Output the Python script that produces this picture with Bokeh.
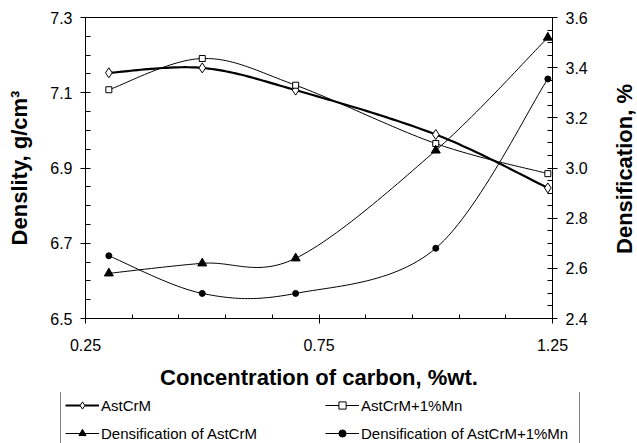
import numpy as np
from bokeh.plotting import figure
from bokeh.layouts import column, row
from bokeh.models import (Range1d, LinearAxis, FixedTicker, Legend, LegendItem, Title)
from bokeh.embed import file_html
from bokeh.resources import INLINE

# ---- data ----
carbon = [0.3, 0.5, 0.7, 1.0, 1.24]
astcrm = [7.153, 7.166, 7.107, 6.989, 6.847]
astcrm_mn = [7.108, 7.191, 7.120, 6.965, 6.885]
dens_astcrm = [2.58, 2.62, 2.64, 3.07, 3.52]
dens_astcrm_mn = [2.65, 2.50, 2.50, 2.68, 3.355]

x_ticks = [0.25, 0.75, 1.25]
x_minor = [0.35, 0.45, 0.55, 0.65, 0.85, 0.95, 1.05, 1.15]
y_ticks = [6.5, 6.7, 6.9, 7.1, 7.3]
y_minor = [6.55, 6.6, 6.65, 6.75, 6.8, 6.85, 6.95, 7.0, 7.05, 7.15, 7.2, 7.25]
y2_ticks = [2.4, 2.6, 2.8, 3.0, 3.2, 3.4, 3.6]
y2_minor = [2.45, 2.5, 2.55, 2.65, 2.7, 2.75, 2.85, 2.9, 2.95, 3.05, 3.1, 3.15,
            3.25, 3.3, 3.35, 3.45, 3.5, 3.55]

labels = ["AstCrM", "AstCrM+1%Mn", "Densification of AstCrM", "Densification of AstCrM+1%Mn"]
x_title = "Concentration of carbon, %wt."
y_title = "Denslity, g/cm\u00b3"
y2_title = "Densification, %"


def smooth(xs, ys, n=30):
    pts = np.column_stack([xs, ys]).astype(float)
    outx, outy = [], []
    m = len(pts)
    for i in range(m - 1):
        p0 = pts[i - 1] if i > 0 else pts[i]
        p1 = pts[i]
        p2 = pts[i + 1]
        p3 = pts[i + 2] if i + 2 < m else pts[i + 1]
        c1 = p1 + (p2 - p0) / 6.0
        c2 = p2 - (p3 - p1) / 6.0
        ts = np.linspace(0, 1, n)
        if i < m - 2:
            ts = ts[:-1]
        for t in ts:
            b = ((1 - t) ** 3) * p1 + 3 * ((1 - t) ** 2) * t * c1 + 3 * (1 - t) * t * t * c2 + t ** 3 * p2
            outx.append(b[0])
            outy.append(b[1])
    return outx, outy


def no_align(fig):
    if "frame_align" in fig.properties():
        fig.frame_align = False


FONT = "Liberation Sans"
TITLE_SIZE = "22px"
RIGHT_W = 28

p = figure(width=637 - RIGHT_W, height=392, output_backend="svg", toolbar_location=None,
           x_range=Range1d(0.25, 1.25), y_range=Range1d(6.5, 7.3),
           min_border_left=85, min_border_right=57, min_border_top=17, min_border_bottom=72,
           x_axis_type=None, y_axis_type=None, title_location=None)
no_align(p)
p.extra_y_ranges = {"dens": Range1d(2.4, 3.6)}
p.xgrid.visible = False
p.ygrid.visible = False
p.outline_line_color = "black"
p.outline_line_width = 1
p.background_fill_color = "white"
p.border_fill_color = "white"

xaxis = LinearAxis(axis_label=x_title,
                   ticker=FixedTicker(ticks=x_ticks, minor_ticks=x_minor))
yaxis = LinearAxis(axis_label=y_title,
                   ticker=FixedTicker(ticks=y_ticks, minor_ticks=y_minor))
y2axis = LinearAxis(y_range_name="dens",
                    ticker=FixedTicker(ticks=y2_ticks, minor_ticks=y2_minor))
xaxis.major_label_overrides = {t: f"{t:.2f}" for t in x_ticks}
yaxis.major_label_overrides = {t: f"{t:.1f}" for t in y_ticks}
y2axis.major_label_overrides = {t: f"{t:.1f}" for t in y2_ticks}

for ax in (xaxis, yaxis, y2axis):
    ax.axis_line_color = "black"
    ax.major_tick_line_color = "black"
    ax.minor_tick_line_color = "black"
    ax.major_label_text_font = FONT
    ax.major_label_text_font_size = "16px"
    ax.major_label_text_color = "black"
    ax.axis_label_text_font = FONT
    ax.axis_label_text_font_style = "bold"
    ax.axis_label_text_font_size = TITLE_SIZE
    ax.axis_label_text_color = "black"
    ax.major_tick_in = 5
    ax.major_tick_out = 5
    ax.minor_tick_in = 5
    ax.minor_tick_out = 0
    ax.major_label_standoff = 8

xaxis.major_tick_in = 4
xaxis.minor_tick_in = 4
xaxis.major_label_standoff = 15
xaxis.axis_label_standoff = 11
yaxis.axis_label_standoff = 15

p.add_layout(xaxis, "below")
p.add_layout(yaxis, "left")
p.add_layout(y2axis, "right")

# narrow strip on the right carrying the right-axis title (reads bottom to top)
rf = figure(width=RIGHT_W, height=392, output_backend="svg", toolbar_location=None,
            x_range=Range1d(10, 11), y_range=Range1d(10, 11),
            min_border_left=0, min_border_right=0, min_border_top=17, min_border_bottom=72,
            x_axis_type=None, y_axis_type=None, title_location=None)
no_align(rf)
rf.xgrid.visible = False
rf.ygrid.visible = False
rf.outline_line_color = None
rf.background_fill_color = "white"
rf.border_fill_color = "white"
rf.add_layout(Title(text=y2_title, align="center", text_font=FONT, text_font_size=TITLE_SIZE,
                    text_font_style="bold", text_color="black", standoff=0, offset=0), "left")

series = [
    (astcrm, None, dict(line_width=2.2), dict(marker="diamond", size=10, fill_color="white")),
    (astcrm_mn, None, dict(line_width=1), dict(marker="square", size=6, fill_color="white")),
    (dens_astcrm, "dens", dict(line_width=1), dict(marker="triangle", size=9, fill_color="black")),
    (dens_astcrm_mn, "dens", dict(line_width=1), dict(marker="circle", size=6, fill_color="black")),
]

# legend strip below the chart (its own ranges keep the data out of view)
lf = figure(width=637, height=51, output_backend="svg", toolbar_location=None,
            x_range=Range1d(10, 11), y_range=Range1d(10, 11),
            min_border=0, min_border_left=0, min_border_right=0,
            min_border_top=0, min_border_bottom=0,
            x_axis_type=None, y_axis_type=None, title_location=None)
no_align(lf)
lf.xgrid.visible = False
lf.ygrid.visible = False
lf.outline_line_color = None
lf.background_fill_color = "white"
lf.border_fill_color = "white"

items = []
for (vals, rng, lkw, mkw), lab in zip(series, labels):
    sx, sy = smooth(carbon, vals)
    extra = {"y_range_name": rng} if rng else {}
    p.line(sx, sy, line_color="black", **lkw, **extra)
    p.scatter(carbon, vals, line_color="black", line_width=1, **mkw, **extra)
    ll = lf.line(sx, sy, line_color="black", **lkw)
    ls = lf.scatter(carbon, vals, line_color="black", line_width=1, **mkw)
    items.append(LegendItem(label=lab, renderers=[ll, ls]))

legend = Legend(items=items,
                orientation="horizontal", ncols=2,
                location=(60, -4),
                label_text_font=FONT, label_text_font_size="15px",
                label_text_color="black",
                glyph_width=34, glyph_height=18, label_height=18,
                label_width=214, label_standoff=2,
                spacing=10, padding=4, margin=0,
                border_line_color="black", border_line_width=1,
                background_fill_color="white", background_fill_alpha=1)
lf.add_layout(legend, "center")

layout = column(row(p, rf, spacing=0), lf, spacing=0)
open("out.html", "w").write(file_html(layout, INLINE))
